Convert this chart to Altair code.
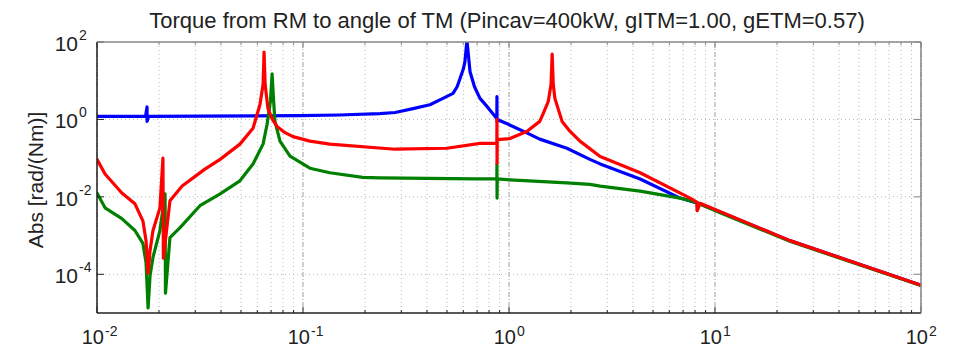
import altair as alt
import pandas as pd

W, H = 824, 271

title_text = "Torque from RM to angle of TM (Pincav=400kW, gITM=1.00, gETM=0.57)"
ylabel_text = "Abs [rad/(Nm)]"

# ---- series (frequency, magnitude) ----
blue_f = [0.01, 0.0172, 0.0175, 0.0175, 0.0178, 0.0966, 0.15, 0.236, 0.28, 0.342, 0.413, 0.478,
          0.535, 0.56, 0.578, 0.6, 0.611, 0.625, 0.647, 0.68, 0.723, 0.78, 0.855, 0.873, 0.874,
          0.875, 0.877, 1.045, 1.22, 1.41, 1.91, 2.47, 2.77, 4.33, 6.77, 8.46, 23.1, 100]
blue_a = [1.2, 1.2, 2.1, 0.89, 1.2, 1.25, 1.3, 1.41, 1.51, 1.9, 2.4, 3.5,
          4.7, 7.0, 11.2, 20, 31, 110, 17, 7, 3.5, 2.2, 1.2, 1.05, 3.9,
          0.89, 1.0, 0.66, 0.45, 0.31, 0.18, 0.093, 0.071, 0.029, 0.0093, 0.0066, 0.00074, 0.0000525]

green_f = [0.01, 0.01094, 0.0132, 0.01528, 0.0167, 0.0173, 0.0177, 0.0181, 0.0187, 0.0202, 0.0214, 0.0215,
           0.0226, 0.0253, 0.0316, 0.0396, 0.0494, 0.0572, 0.064, 0.0669, 0.0695, 0.0708,
           0.072, 0.0731, 0.0773, 0.0865, 0.108, 0.135, 0.195, 0.236, 0.684, 0.873, 0.874,
           0.875, 0.877, 1.01, 1.91, 2.47, 2.77, 4.33, 6.77, 8.18, 8.2, 8.25, 10.6, 23.1, 100]
green_a = [0.0126, 0.0052, 0.00275, 0.00135, 0.00063, 0.0002, 0.0000135, 0.000093, 0.000275, 0.00135, 0.012, 0.0000324,
           0.00089, 0.0016, 0.0059, 0.012, 0.026, 0.071, 0.23, 0.74, 3.0, 15,
           3.0, 0.89, 0.275, 0.112, 0.055, 0.042, 0.032, 0.031, 0.029, 0.029, 0.071,
           0.0093, 0.029, 0.0275, 0.023, 0.021, 0.019, 0.014, 0.0093, 0.0072, 0.0046, 0.0068, 0.0039, 0.00071, 0.000051]

red_f = [0.01, 0.01094, 0.0132, 0.01528, 0.0167, 0.0173, 0.0177, 0.0181, 0.0187, 0.0202, 0.0209, 0.0210,
         0.0226, 0.0259, 0.0334, 0.0396, 0.0494, 0.0572, 0.0618, 0.064, 0.0647, 0.0655,
         0.0676, 0.071, 0.0748, 0.081, 0.0894, 0.108, 0.135, 0.28, 0.5, 0.723, 0.86, 0.873, 0.874,
         0.875, 0.877, 1.01, 1.22, 1.41, 1.46, 1.55, 1.6, 1.62, 1.64, 1.67, 1.81, 1.98, 2.21,
         2.77, 4.33, 7.57, 8.18, 8.2, 8.46, 23.1, 100]
red_a = [0.093, 0.039, 0.0126, 0.0066, 0.0024, 0.00074, 0.000107, 0.00042, 0.00135, 0.0052, 0.1, 0.00026,
         0.0079, 0.019, 0.052, 0.093, 0.23, 0.59, 2.4, 8, 55, 8,
         1.9, 1.0, 0.66, 0.47, 0.36, 0.275, 0.23, 0.17, 0.18, 0.24, 0.24, 0.24, 1.0,
         0.074, 0.3, 0.32, 0.49, 0.89, 1.35, 2.9, 8, 49, 8, 3.5, 0.89, 0.49, 0.275,
         0.11, 0.042, 0.0093, 0.0072, 0.0044, 0.0068, 0.00074, 0.0000525]

# ---- axes / grid ----
x_major = [0.01, 0.1, 1, 10, 100]
x_exp = ["-2", "-1", "0", "1", "2"]
x_minor = [0.02, 0.03, 0.04, 0.05, 0.06, 0.07, 0.08, 0.09,
           0.2, 0.3, 0.4, 0.5, 0.6, 0.7, 0.8, 0.9,
           2, 3, 4, 5, 6, 7, 8, 9,
           20, 30, 40, 50, 60, 70, 80, 90]
y_major = [100, 1, 0.01, 0.0001]
y_exp = ["2", "0", "-2", "-4"]

FONT = "Liberation Sans"
xs = alt.Scale(type="log", domain=[0.01, 100])
ys = alt.Scale(type="log", domain=[1e-5, 100])


def series(f, a, color):
    df = pd.DataFrame({"f": f, "a": a, "i": list(range(len(f)))})
    return alt.Chart(df).mark_line(color=color, strokeWidth=3.2, clip=True,
                                   strokeJoin="round", strokeCap="round").encode(
        x=alt.X("f:Q", scale=xs, axis=None),
        y=alt.Y("a:Q", scale=ys, axis=None),
        order=alt.Order("i:Q"),
    )


xmin_df = pd.DataFrame({"v": x_minor})
xmaj_df = pd.DataFrame({"v": x_major, "e": x_exp, "b": ["10"] * len(x_major)})
ymaj_df = pd.DataFrame({"v": y_major, "e": y_exp, "b": ["10"] * len(y_major)})

grid_xminor = alt.Chart(xmin_df).mark_rule(color="#b8b8b8", strokeDash=[1, 3], strokeWidth=1).encode(
    x=alt.X("v:Q", scale=xs, axis=None), y=alt.value(0), y2=alt.value(H))
grid_xmajor = alt.Chart(xmaj_df).mark_rule(color="#a0a0a0", strokeDash=[5, 2, 1, 2], strokeWidth=1).encode(
    x=alt.X("v:Q", scale=xs, axis=None), y=alt.value(0), y2=alt.value(H))
grid_y = alt.Chart(ymaj_df).mark_rule(color="#b8b8b8", strokeDash=[1, 3], strokeWidth=1).encode(
    y=alt.Y("v:Q", scale=ys, axis=None), x=alt.value(0), x2=alt.value(W))

tick_bot_minor = alt.Chart(xmin_df).mark_rule(color="#222", strokeWidth=1).encode(
    x=alt.X("v:Q", scale=xs, axis=None), y=alt.value(H), y2=alt.value(H - 3))
tick_bot_major = alt.Chart(xmaj_df).mark_rule(color="#222", strokeWidth=1).encode(
    x=alt.X("v:Q", scale=xs, axis=None), y=alt.value(H), y2=alt.value(H - 6))
tick_top_minor = alt.Chart(xmin_df).mark_rule(color="#888", strokeWidth=1).encode(
    x=alt.X("v:Q", scale=xs, axis=None), y=alt.value(0), y2=alt.value(3))
tick_top_major = alt.Chart(xmaj_df).mark_rule(color="#888", strokeWidth=1).encode(
    x=alt.X("v:Q", scale=xs, axis=None), y=alt.value(0), y2=alt.value(6))
tick_left = alt.Chart(ymaj_df).mark_rule(color="#222", strokeWidth=1).encode(
    y=alt.Y("v:Q", scale=ys, axis=None), x=alt.value(0), x2=alt.value(7))
tick_right = alt.Chart(ymaj_df).mark_rule(color="#888", strokeWidth=1).encode(
    y=alt.Y("v:Q", scale=ys, axis=None), x=alt.value(W - 7), x2=alt.value(W))

one = pd.DataFrame({"k": [0]})
border_left = alt.Chart(one).mark_rule(color="#222", strokeWidth=1.5).encode(
    x=alt.value(0), y=alt.value(0), y2=alt.value(H))
border_bottom = alt.Chart(one).mark_rule(color="#222", strokeWidth=1.5).encode(
    x=alt.value(0), x2=alt.value(W), y=alt.value(H))
border_top = alt.Chart(one).mark_rule(color="#888", strokeWidth=1.5).encode(
    x=alt.value(0), x2=alt.value(W), y=alt.value(0))
border_right = alt.Chart(one).mark_rule(color="#888", strokeWidth=1.5).encode(
    x=alt.value(W), y=alt.value(0), y2=alt.value(H))

xlab_base = alt.Chart(xmaj_df).mark_text(font=FONT, fontSize=20, align="right", dx=7,
                                         baseline="alphabetic", color="#222").encode(
    x=alt.X("v:Q", scale=xs, axis=None), y=alt.value(H + 31), text="b:N")
xlab_exp = alt.Chart(xmaj_df).mark_text(font=FONT, fontSize=14, align="left", dx=8,
                                        baseline="alphabetic", color="#222").encode(
    x=alt.X("v:Q", scale=xs, axis=None), y=alt.value(H + 23), text="e:N")
ylab_base = alt.Chart(ymaj_df).mark_text(font=FONT, fontSize=21, align="right", dy=9,
                                         baseline="alphabetic", color="#222").encode(
    y=alt.Y("v:Q", scale=ys, axis=None), x=alt.value(-19), text="b:N")
ylab_exp = alt.Chart(ymaj_df).mark_text(font=FONT, fontSize=14, align="left", dy=-2,
                                        baseline="alphabetic", color="#222").encode(
    y=alt.Y("v:Q", scale=ys, axis=None), x=alt.value(-18), text="e:N")

title = alt.Chart(pd.DataFrame({"t": [title_text]})).mark_text(
    font=FONT, fontSize=22, align="center", baseline="alphabetic", color="#222").encode(
    text="t:N", x=alt.value(W / 2 - 2), y=alt.value(-14))
ylabel = alt.Chart(pd.DataFrame({"t": [ylabel_text]})).mark_text(
    font=FONT, fontSize=21, align="center", baseline="alphabetic", angle=270, color="#222").encode(
    text="t:N", x=alt.value(-54), y=alt.value(138))

chart = alt.layer(
    grid_xminor, grid_xmajor, grid_y,
    series(blue_f, blue_a, "#0000ff"),
    series(green_f, green_a, "#008000"),
    series(red_f, red_a, "#ff0000"),
    tick_bot_minor, tick_bot_major, tick_top_minor, tick_top_major, tick_left, tick_right,
    border_left, border_bottom, border_top, border_right,
    xlab_base, xlab_exp, ylab_base, ylab_exp, title, ylabel,
).properties(
    width=W, height=H, autosize="none",
    padding={"left": 89, "top": 34, "right": 24, "bottom": 34},
).configure_view(stroke=None)

chart.save("out.html", embed_options={"renderer": "svg", "actions": False})
